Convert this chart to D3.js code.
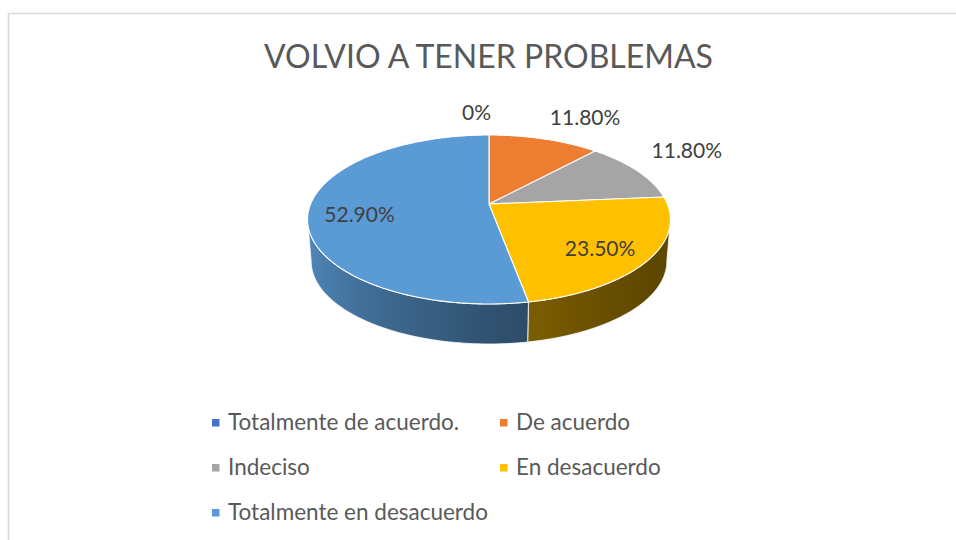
<!DOCTYPE html>
<html><head><meta charset="utf-8">
<script src="https://cdn.jsdelivr.net/npm/d3@7"></script>
<style>body{margin:0;background:#fff}svg{display:block}text{font-family:Lato,"Noto Sans",sans-serif}</style>
</head><body><svg id="c" width="956" height="540"></svg>
<script>
const title = "VOLVIO A TENER PROBLEMAS";
const categories = ["Totalmente de acuerdo.", "De acuerdo", "Indeciso", "En desacuerdo", "Totalmente en desacuerdo"];
const values = [0, 11.8, 11.8, 23.5, 52.9];
const valueLabels = ["0%", "11.80%", "11.80%", "23.50%", "52.90%"];
const colors = ["#4472c4", "#ed7d31", "#a5a5a5", "#ffc000", "#5b9bd5"];

const svg = d3.select("#c");
svg.append("rect").attr("x", 8.5).attr("y", 13.5).attr("width", 960).attr("height", 540)
  .attr("fill", "#fff").attr("stroke", "#d9d9d9").attr("stroke-width", 1.6);

// projection of a perspective 3D pie
const cx = 489, cy = 204, A = 178.4, B = 81.65, e = 0.1834, T = 42, k = 0.98;
function P(phi, rho, bottom) {
  const u = Math.sin(phi) * rho, v = Math.cos(phi) * rho, w = 1 + e * v;
  const s = bottom ? k : 1;
  return [cx + s * A * u / w, cy + (bottom ? T : 0) - s * B * v / w];
}
function arcPts(a0, a1, rho, bottom) {
  const n = Math.max(2, Math.ceil(Math.abs(a1 - a0) / 0.01));
  return d3.range(n + 1).map(i => P(a0 + (a1 - a0) * i / n, rho, bottom));
}
function bright(phi) { return 0.662 - 0.265 * Math.sin(phi) + 0.129 * Math.cos(phi); }

const pie = d3.pie().sort(null).value(d => d).startAngle(0).endAngle(2 * Math.PI);
const arcs = pie(values);
const vis0 = Math.acos(-e), vis1 = 2 * Math.PI - vis0;
const defs = svg.append("defs");
const line = d3.line();

// walls
arcs.forEach((d, i) => {
  const a0 = Math.max(d.startAngle, vis0), a1 = Math.min(d.endAngle, vis1);
  if (a1 <= a0) return;
  const top = arcPts(a0, a1, 1, false), bot = arcPts(a1, a0, 1, true);
  const xs = top.map(p => p[0]);
  const x0 = d3.min(xs), x1 = d3.max(xs);
  const g = defs.append("linearGradient").attr("id", "w" + i)
    .attr("gradientUnits", "userSpaceOnUse").attr("x1", x0).attr("x2", x1).attr("y1", 0).attr("y2", 0);
  const base = d3.rgb(colors[i]);
  const stops = d3.range(25).map(j => {
    const phi = a0 + (a1 - a0) * j / 24;
    const x = P(phi, 1, false)[0], b = bright(phi);
    return { o: (x - x0) / (x1 - x0), c: d3.rgb(base.r * b, base.g * b, base.b * b) };
  }).sort((p, q) => p.o - q.o);
  stops.forEach(s => g.append("stop").attr("offset", s.o).attr("stop-color", s.c));
  svg.append("path").attr("d", line(top.concat(bot)) + "Z")
    .attr("fill", `url(#w${i})`).attr("stroke", "#fff").attr("stroke-width", 0.8).attr("stroke-linejoin", "round");
});

// top faces
arcs.forEach((d, i) => {
  if (d.endAngle - d.startAngle <= 0) return;
  const pts = [P(0, 0, false)].concat(arcPts(d.startAngle, d.endAngle, 1, false));
  svg.append("path").attr("d", line(pts) + "Z")
    .attr("fill", colors[i]).attr("stroke", "#fff").attr("stroke-width", 1.1).attr("stroke-linejoin", "round");
});

// data labels
arcs.forEach((d, i) => {
  const mid = (d.startAngle + d.endAngle) / 2;
  const t = svg.append("text").text(valueLabels[i]).attr("font-size", 21).attr("fill", "#404040");
  if (values[i] > 20) {
    const p = P(mid, 0.72, false);
    t.attr("x", p[0]).attr("y", p[1] + 13).attr("text-anchor", "middle");
  } else {
    const p = P(mid, 1.1, false);
    const right = Math.sin(mid) > 0.01;
    t.attr("x", p[0] + (right ? 1 : 2)).attr("y", p[1] - 9).attr("text-anchor", right ? "start" : "end");
  }
});

// title
svg.append("text").attr("x", 488.5).attr("y", 68.3).attr("text-anchor", "middle")
  .attr("font-size", 32).attr("fill", "#595959").text(title);

// legend
const colX = [212, 500], rowY = [430, 475, 520];
categories.forEach((c, i) => {
  const x = colX[i % 2], y = rowY[Math.floor(i / 2)];
  svg.append("rect").attr("x", x).attr("y", y - 11).attr("width", 7.5).attr("height", 7.5).attr("fill", colors[i]);
  svg.append("text").attr("x", x + 16).attr("y", y).attr("font-size", 22.5).attr("fill", "#595959").text(c);
});
</script></body></html>
